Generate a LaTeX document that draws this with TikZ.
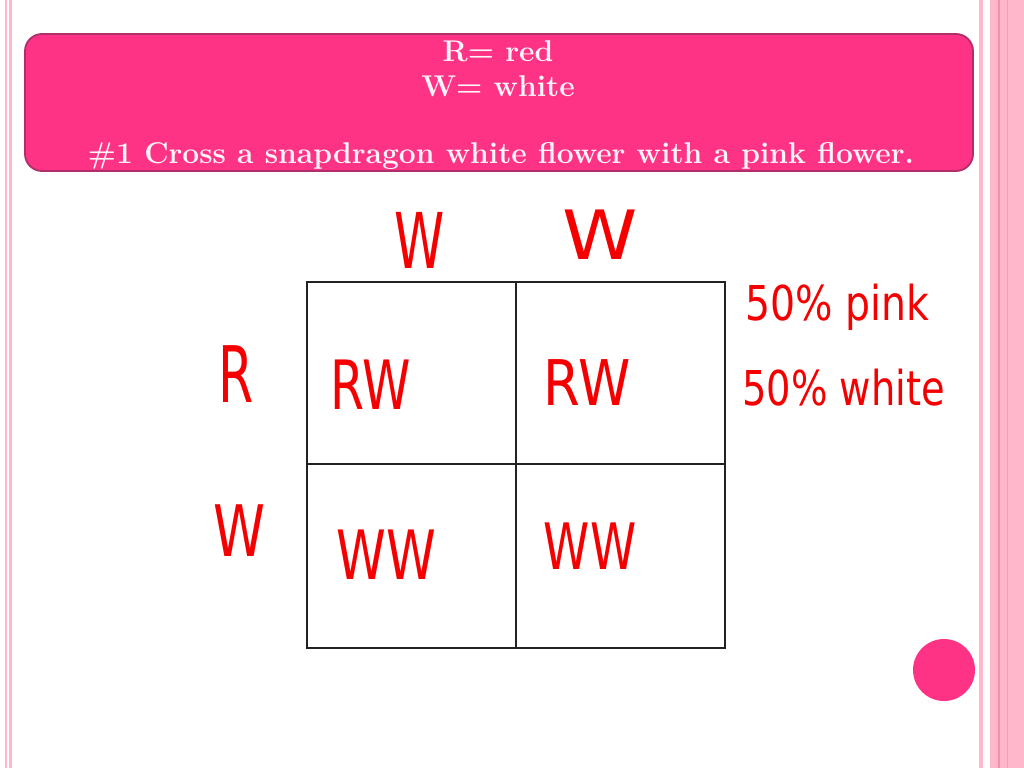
\documentclass[tikz,border=0pt]{standalone}
\usepackage{fontspec}
\usepackage{graphicx}
\newfontfamily\handfont{DejaVu Sans}
\definecolor{hotpink}{HTML}{FF3385}
\definecolor{bannerline}{HTML}{B02E6A}
\definecolor{stripe}{HTML}{FFB8CB}
\definecolor{stripedark}{HTML}{F590B0}
\definecolor{hred}{HTML}{F50000}
\definecolor{gridline}{HTML}{222222}
\definecolor{bannertext}{HTML}{FFF4F8}
\tikzset{
  hand/.style={text=hred, inner sep=0pt, font=\handfont},
  bantext/.style={text=bannertext, inner sep=0pt, anchor=base, font=\fontsize{30}{34}\selectfont\bfseries},
  gridstyle/.style={draw=gridline, line width=1.8pt},
}
\newcommand{\hw}[3]{\scalebox{#2}[1]{\fontsize{#1}{#1}\selectfont #3}}
\begin{document}
\begin{tikzpicture}[x=1pt,y=-1pt]
\useasboundingbox (0,0) rectangle (1024,768);
\fill[white] (0,0) rectangle (1024,768);
% left stripes
\fill[stripe] (5,0) rectangle (7,768);
\fill[stripe] (9,0) rectangle (12,768);
% right stripes
\fill[stripe] (979,0) rectangle (983,768);
\fill[stripe] (990,0) rectangle (1024,768);
\fill[stripedark] (998,0) rectangle (999.5,768);
\fill[stripedark!70!stripe] (1007,0) rectangle (1008,768);
% banner
\draw[fill=hotpink, draw=bannerline, line width=1.8pt, rounded corners=17pt] (25,34) rectangle (973,171);
\node[bantext] (b1) at (498,62) {R= red};
\node[bantext] (b2) at (498,96) {W= white};
\node[bantext] (b3) at (501,163) {\#1 Cross a snapdragon white flower with a pink flower.};
% punnett square
\draw[gridstyle] (307,282) rectangle (725,648);
\draw[gridstyle] (516,282) -- (516,648);
\draw[gridstyle] (307,464) -- (725,464);
% handwriting
\node[hand] (tw1) at (420,240) {\hw{77}{0.66}{W}};
\node[hand] (tw2) at (600,235) {\hw{68}{1.12}{W}};
\node[hand] (lr) at (236,374) {\hw{78}{0.65}{R}};
\node[hand] (lw) at (239,531) {\hw{71}{0.74}{W}};
\node[hand] (c11) at (371,385) {\hw{68}{0.72}{RW}};
\node[hand] (c12) at (587,383) {\hw{63}{0.84}{RW}};
\node[hand] (c21) at (386,555) {\hw{68}{0.74}{WW}};
\node[hand] (c22) at (590,546) {\hw{64}{0.73}{WW}};
\node[hand, anchor=base west] (p1) at (745,320) {\hw{48}{0.82}{50\% pink}};
\node[hand, anchor=base west] (p2) at (742,405) {\hw{48}{0.80}{50\% white}};
% circle
\fill[hotpink] (944,670) circle (31);
\end{tikzpicture}
\end{document}
